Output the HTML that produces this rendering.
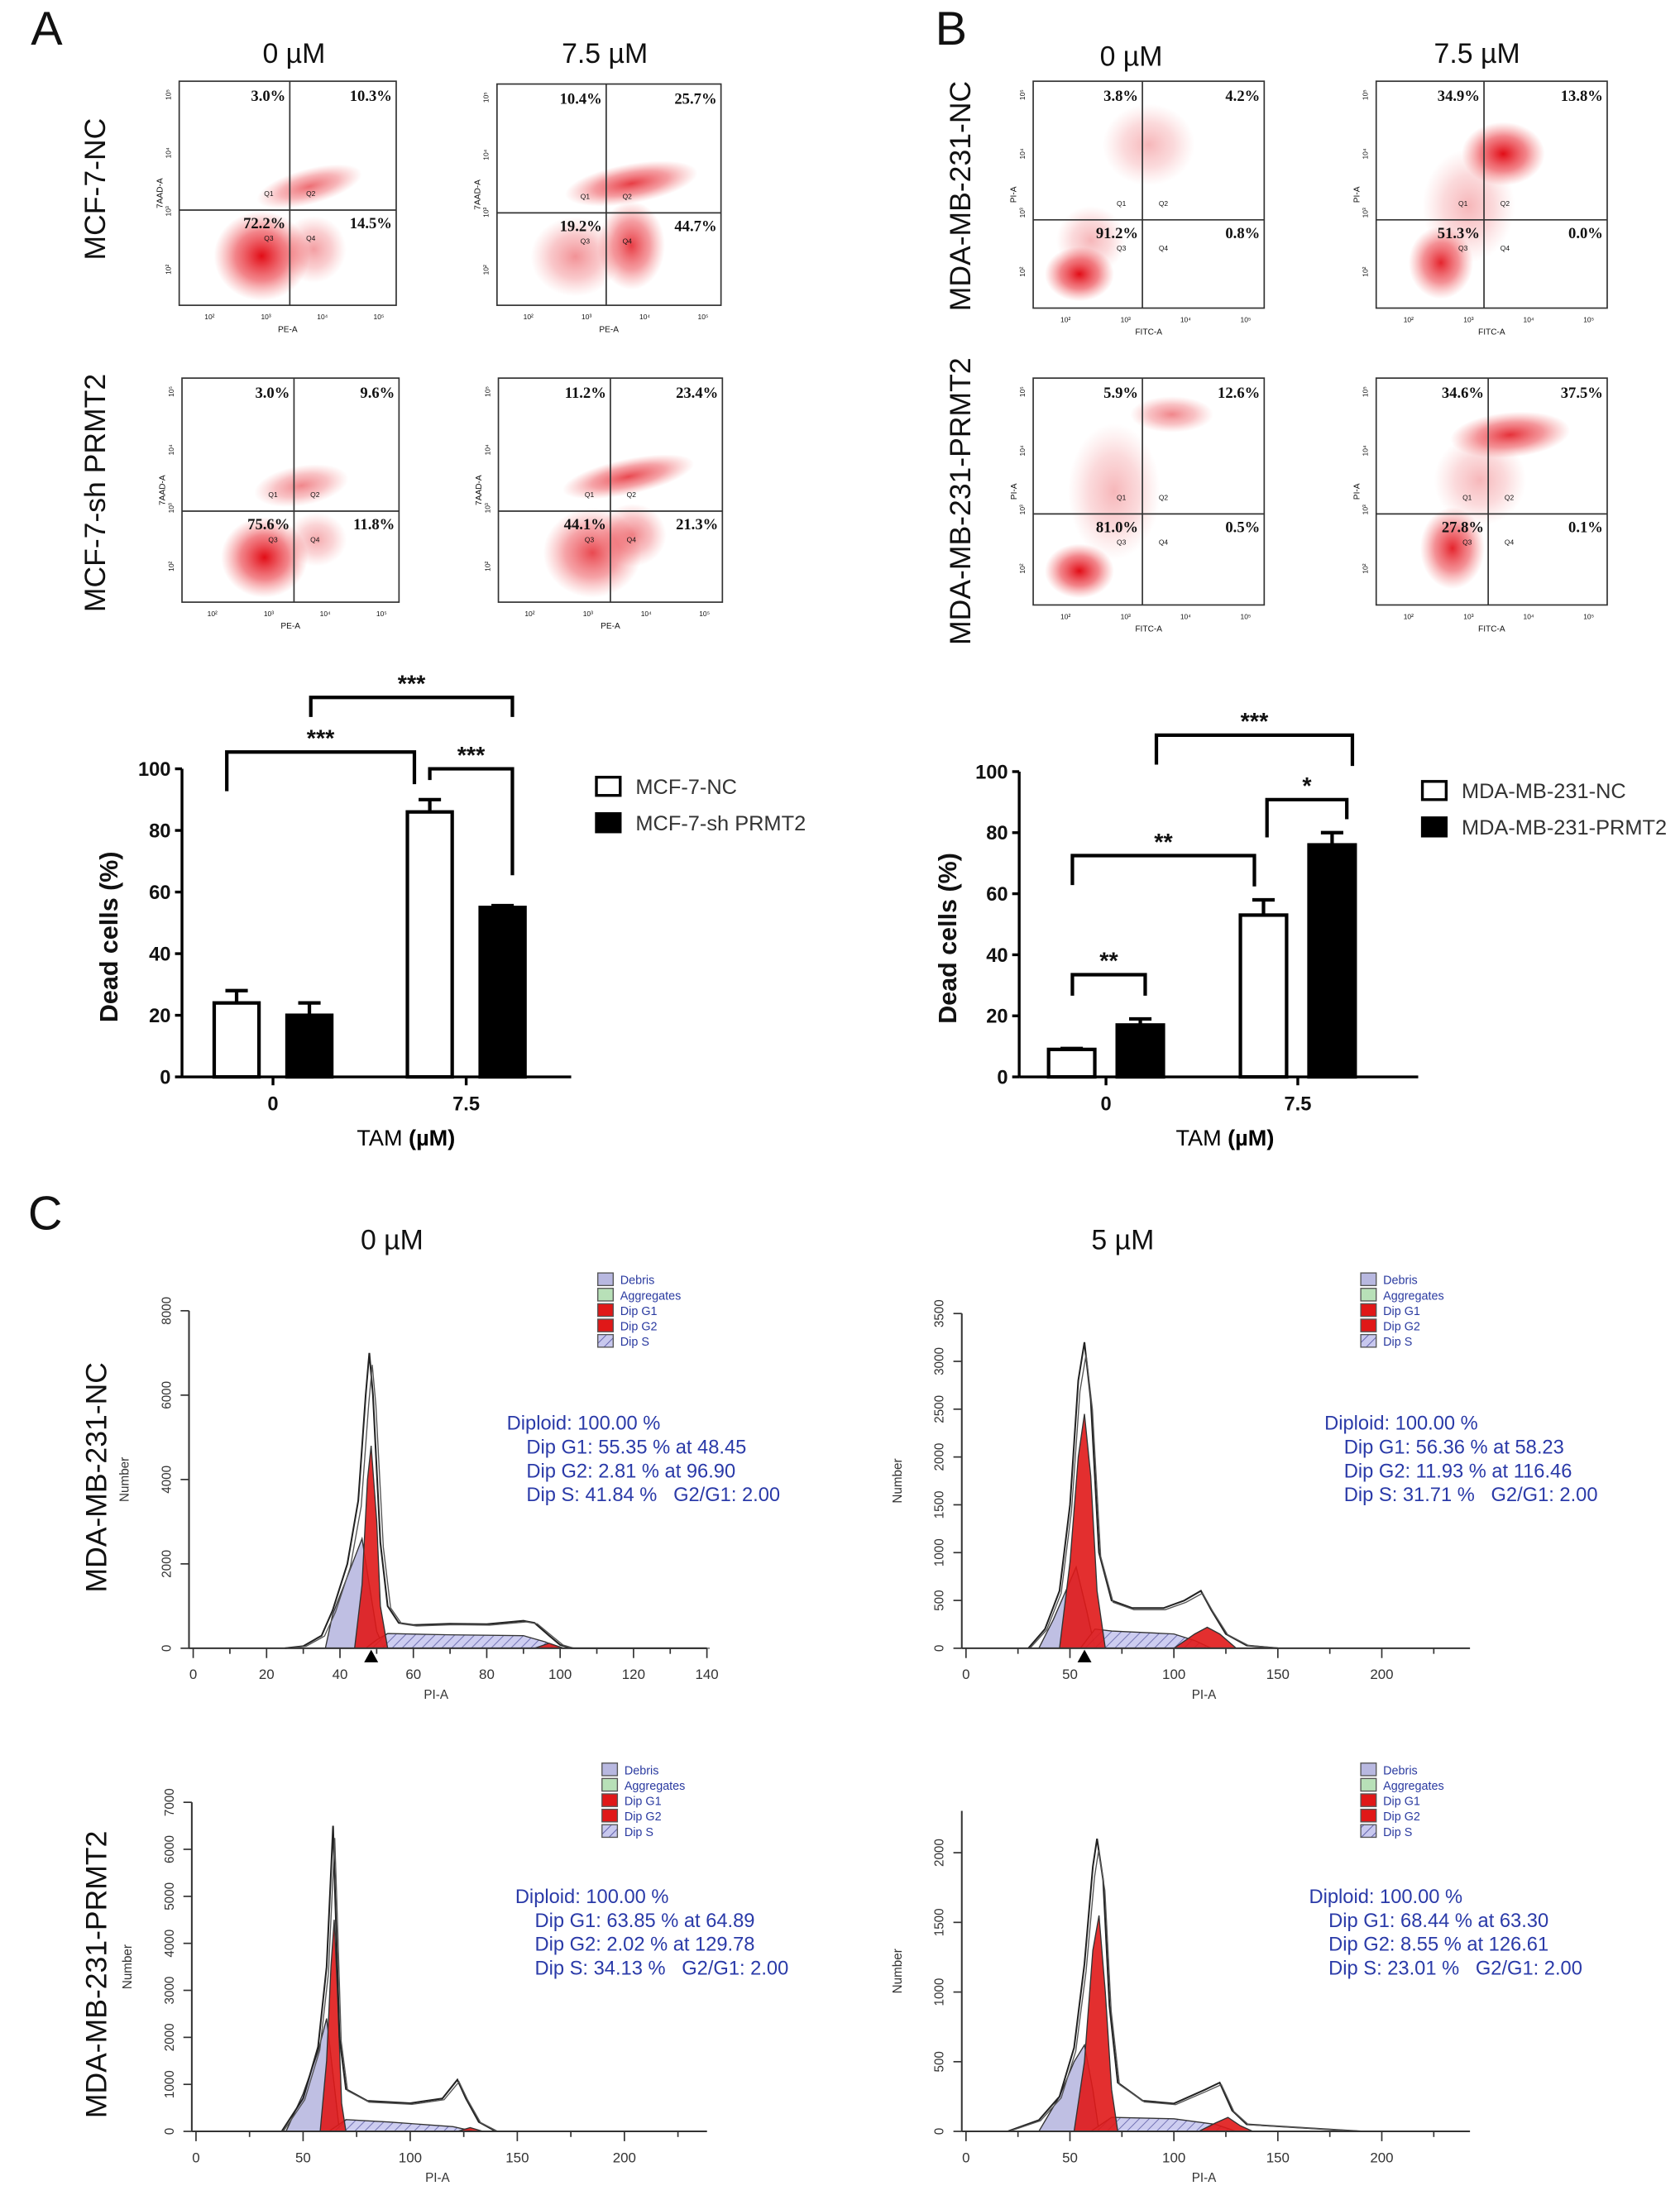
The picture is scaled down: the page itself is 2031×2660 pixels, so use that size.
<!DOCTYPE html>
<html><head><meta charset="utf-8"><style>
html,body{margin:0;padding:0;background:#fff;}
svg{display:block;font-family:"Liberation Sans",sans-serif;}
</style></head><body>
<svg id="fig" width="2031" height="2660" viewBox="0 0 1200 1571" preserveAspectRatio="none" xmlns="http://www.w3.org/2000/svg">
<defs>
<radialGradient id="rg"><stop offset="0" stop-color="#e0000a" stop-opacity="0.95"/><stop offset="0.55" stop-color="#e8202a" stop-opacity="0.55"/><stop offset="1" stop-color="#f05050" stop-opacity="0"/></radialGradient>
<pattern id="hatch" width="5" height="5" patternUnits="userSpaceOnUse" patternTransform="rotate(45)"><rect width="5" height="5" fill="#c8c8ee"/><line x1="0" y1="0" x2="0" y2="5" stroke="#5050a0" stroke-width="1"/></pattern>
</defs>
<g id="root"></g>
</svg>
<script>
// ---------- Bar chart data ----------
const barCategories = ["0", "7.5"];
const barA_NC = [24, 86];
const barA_NC_err = [4, 4];
const barA_sh = [20, 55];
const barA_sh_err = [4, 0.6];
const barB_NC = [9, 53];
const barB_NC_err = [0.3, 5];
const barB_PR = [17, 76];
const barB_PR_err = [2, 4];
const barTicks = [0, 20, 40, 60, 80, 100];

// ---------- Histogram data ([PI, count]) ----------
const hTL_env = [[25,0],[30,50],[35,300],[38,900],[42,2000],[45,3500],[47,6000],[48,7000],[49,6000],[51,2500],[53,1000],[56,600],[60,550],[70,580],[80,570],[90,650],[93,600],[97,300],[100,80],[103,0],[140,0]];
const hTL_deb = [[36,0],[38,800],[42,1700],[46,2600],[48,1500],[50,400],[52,0]];
const hTL_g1 = [[44,0],[46,1500],[47.5,4000],[48.5,4800],[50,3000],[51,1000],[53,0]];
const hTL_s = [[47,0],[50,200],[53,350],[70,320],[90,300],[96,150],[100,0]];
const hTL_g2 = [[93,0],[97,120],[101,0]];
const hTR_env = [[30,0],[38,200],[45,600],[50,1500],[54,2800],[57,3200],[60,2600],[64,1000],[70,500],[80,420],[95,420],[105,500],[113,600],[118,400],[125,150],[135,30],[150,0]];
const hTR_deb = [[35,0],[42,300],[48,600],[53,850],[58,400],[62,0]];
const hTR_g1 = [[45,0],[50,900],[54,2000],[57,2450],[60,1800],[63,600],[67,0]];
const hTR_s = [[55,0],[62,200],[70,180],[100,150],[110,80],[118,0]];
const hTR_g2 = [[100,0],[110,150],[116,220],[122,150],[130,0]];
const hBL_env = [[40,0],[50,700],[57,1800],[61,3500],[63,5500],[64,6500],[65,5000],[67,2000],[70,900],[80,650],[100,600],[115,700],[122,1100],[126,700],[132,200],[140,0]];
const hBL_deb = [[42,0],[50,800],[57,1700],[61,2400],[64,1200],[67,0]];
const hBL_g1 = [[58,0],[61,1500],[63,3500],[64.5,4500],[66,3000],[68,600],[70,0]];
const hBL_s = [[62,0],[70,250],[90,200],[120,100],[130,0]];
const hBL_g2 = [[122,0],[128,80],[134,0]];
const hBR_env = [[20,0],[35,80],[45,250],[52,600],[57,1200],[61,1900],[63,2100],[66,1800],[69,900],[73,350],[85,220],[100,200],[115,300],[122,350],[128,150],[135,50],[190,0]];
const hBR_deb = [[35,0],[45,250],[52,500],[57,620],[61,300],[64,0]];
const hBR_g1 = [[52,0],[57,500],[61,1300],[64,1550],[67,1000],[70,300],[73,0]];
const hBR_s = [[60,0],[70,100],[100,90],[120,50],[130,0]];
const hBR_g2 = [[112,0],[120,60],[126,100],[132,40],[138,0]];

// ---------- Flow plot quadrant percentages [Q1,Q2,Q3,Q4] ----------
const fA_NC0 = ["3.0%","10.3%","72.2%","14.5%"];
const fA_NC7 = ["10.4%","25.7%","19.2%","44.7%"];
const fA_sh0 = ["3.0%","9.6%","75.6%","11.8%"];
const fA_sh7 = ["11.2%","23.4%","44.1%","21.3%"];
const fB_NC0 = ["3.8%","4.2%","91.2%","0.8%"];
const fB_NC7 = ["34.9%","13.8%","51.3%","0.0%"];
const fB_PR0 = ["5.9%","12.6%","81.0%","0.5%"];
const fB_PR7 = ["34.6%","37.5%","27.8%","0.1%"];

const NS = "http://www.w3.org/2000/svg";
const root = document.getElementById("root");
function el(tag, attrs, parent, txt){
  const e = document.createElementNS(NS, tag);
  for (const k in attrs) e.setAttribute(k, attrs[k]);
  if (txt !== undefined) e.textContent = txt;
  (parent || root).appendChild(e);
  return e;
}
function txt(x,y,s,size,opts,parent){
  opts = opts||{};
  const t = el("text",{x:x,y:y,"font-size":size,"text-anchor":opts.anchor||"middle",fill:opts.fill||"#111","font-weight":opts.weight||"normal","font-family":opts.family||'"Liberation Sans",sans-serif'},parent,s);
  if (opts.rot) t.setAttribute("transform","rotate("+opts.rot+" "+x+" "+y+")");
  return t;
}

// ---------- Panel labels / headers ----------
let t;
t = txt(22,32,"A",34,{anchor:"start"});


t = txt(668,32,"B",34,{anchor:"start"});


t = txt(20,878,"C",34,{anchor:"start"});


[[210,45,"0 µM"],[432,45,"7.5 µM"],[808,47,"0 µM"],[1055,45,"7.5 µM"],[280,892,"0 µM"],[802,892,"5 µM"]].forEach(h=>{
  const e = txt(h[0],h[1],h[2],20);
  
  
});
[[75,135,"MCF-7-NC"],[75,352,"MCF-7-sh PRMT2"],[693,140,"MDA-MB-231-NC"],[693,358,"MDA-MB-231-PRMT2"],[76,1055,"MDA-MB-231-NC"],[76,1410,"MDA-MB-231-PRMT2"]].forEach(h=>{
  const e = txt(h[0],h[1],h[2],21,{rot:-90});
  
  
});

// ---------- Flow cytometry plots ----------
function flow(x0,y0,x1,y1,vx,hy,pcts,clusters,xl,yl){
  const g = el("g",{});
  
  
  clusters.forEach(c=>{
    const e = el("ellipse",{cx:x0+(x1-x0)*c[0],cy:y0+(y1-y0)*c[1],rx:(x1-x0)*c[2],ry:(y1-y0)*c[3],fill:"url(#rg)",opacity:c[4],transform:"rotate("+(c[5]||0)+" "+(x0+(x1-x0)*c[0])+" "+(y0+(y1-y0)*c[1])+")"},g);
    
    
  });
  el("rect",{x:x0,y:y0,width:x1-x0,height:y1-y0,fill:"none",stroke:"#333","stroke-width":1},g);
  el("line",{x1:vx,y1:y0,x2:vx,y2:y1,stroke:"#333","stroke-width":1},g);
  el("line",{x1:x0,y1:hy,x2:x1,y2:hy,stroke:"#333","stroke-width":1},g);
  const f = {weight:"bold",family:'"Liberation Serif",serif'};
  txt(vx-3,y0+14,pcts[0],11,Object.assign({anchor:"end"},f),g);
  txt(x1-3,y0+14,pcts[1],11,Object.assign({anchor:"end"},f),g);
  txt(vx-3,hy+13,pcts[2],11,Object.assign({anchor:"end"},f),g);
  txt(x1-3,hy+13,pcts[3],11,Object.assign({anchor:"end"},f),g);
  txt(vx-15,hy-10,"Q1",5,{},g); txt(vx+15,hy-10,"Q2",5,{},g);
  txt(vx-15,hy+22,"Q3",5,{},g); txt(vx+15,hy+22,"Q4",5,{},g);
  const w = x1-x0;
  ["10²","10³","10⁴","10⁵"].forEach((s,i)=>{ txt(x0+w*(0.14+0.26*i),y1+10,s,5,{},g); });
  ["10²","10³","10⁴","10⁵"].forEach((s,i)=>{ txt(x0-6,y1-(y1-y0)*(0.16+0.26*i),s,5,{rot:-90},g); });
  txt((x0+x1)/2,y1+19,xl,6,{},g);
  txt(x0-12,(y0+y1)/2,yl,6,{rot:-90},g);
}
flow(128,58,283,218,207,150,fA_NC0,[[0.38,0.78,0.22,0.2,1],[0.6,0.47,0.25,0.08,0.6,-15],[0.62,0.75,0.15,0.15,0.4]],"PE-A","7AAD-A");
flow(355,60,515,218,433,152,fA_NC7,[[0.6,0.45,0.3,0.09,0.8,-10],[0.6,0.73,0.15,0.2,0.8],[0.35,0.78,0.2,0.18,0.45]],"PE-A","7AAD-A");
flow(130,270,285,430,210,365,fA_sh0,[[0.38,0.8,0.2,0.18,1],[0.55,0.48,0.22,0.09,0.5,-10],[0.62,0.72,0.14,0.12,0.35]],"PE-A","7AAD-A");
flow(356,270,516,430,436,365,fA_sh7,[[0.58,0.44,0.3,0.08,0.75,-12],[0.42,0.78,0.22,0.2,0.75],[0.6,0.7,0.15,0.14,0.5]],"PE-A","7AAD-A");
flow(738,58,903,220,816,157,fB_NC0,[[0.2,0.85,0.15,0.12,1],[0.5,0.28,0.2,0.18,0.3],[0.25,0.7,0.15,0.15,0.3]],"FITC-A","PI-A");
flow(983,58,1148,220,1060,157,fB_NC7,[[0.55,0.32,0.18,0.14,1],[0.28,0.8,0.14,0.16,0.9],[0.4,0.55,0.2,0.25,0.3]],"FITC-A","PI-A");
flow(738,270,903,432,816,367,fB_PR0,[[0.2,0.85,0.15,0.12,1],[0.6,0.16,0.18,0.08,0.5],[0.35,0.5,0.2,0.3,0.3]],"FITC-A","PI-A");
flow(983,270,1148,432,1063,367,fB_PR7,[[0.58,0.25,0.26,0.1,0.85,-5],[0.33,0.75,0.14,0.18,0.9],[0.45,0.45,0.2,0.2,0.3]],"FITC-A","PI-A");

// ---------- Bar charts ----------
function barChart(cfg){
  const g = el("g",{});
  
  
  const y = v => cfg.y0 - (cfg.y0-cfg.y100)*v/100;
  el("line",{x1:cfg.ax,y1:cfg.y0,x2:cfg.ax,y2:cfg.y100,stroke:"#000","stroke-width":2},g);
  el("line",{x1:cfg.ax,y1:cfg.y0,x2:cfg.axEnd,y2:cfg.y0,stroke:"#000","stroke-width":2},g);
  barTicks.forEach(v=>{
    el("line",{x1:cfg.ax-5,y1:y(v),x2:cfg.ax,y2:y(v),stroke:"#000","stroke-width":2},g);
    const e = txt(cfg.ax-8,y(v)+5,String(v),14,{anchor:"end",weight:"bold"},g);
    
    
  });
  barCategories.forEach((c,i)=>{
    const cx = cfg.centers[i];
    el("line",{x1:cx,y1:cfg.y0,x2:cx,y2:cfg.y0+6,stroke:"#000","stroke-width":2},g);
    const e = txt(cx,cfg.y0+24,c,14,{weight:"bold"},g);
    
    
    [[cfg.s1,cfg.e1,"#fff",-1],[cfg.s2,cfg.e2,"#000",1]].forEach(s=>{
      const bx = cx + s[3]*(cfg.gap) - (s[3]<0?cfg.bw:0);
      const v = s[0][i], er = s[1][i];
      el("line",{x1:bx+cfg.bw/2,y1:y(v),x2:bx+cfg.bw/2,y2:y(v+er),stroke:"#000","stroke-width":2.5},g);
      el("line",{x1:bx+cfg.bw/2-8,y1:y(v+er),x2:bx+cfg.bw/2+8,y2:y(v+er),stroke:"#000","stroke-width":2.5},g);
      const r = el("rect",{x:bx,y:y(v),width:cfg.bw,height:cfg.y0-y(v),fill:s[2],stroke:"#000","stroke-width":2.5},g);
      
      
    });
  });
  const yl = txt(cfg.ylx,(cfg.y0+cfg.y100)/2+10,"Dead cells (%)",18,{rot:-90,weight:"bold"},g);
  
  
  const xl = el("text",{x:cfg.xlx,y:cfg.y0+49,"font-size":16,"text-anchor":"middle"},g);
  
  
  el("tspan",{},xl,"TAM ");
  el("tspan",{"font-weight":"bold"},xl,"(µM)");
  cfg.brackets.forEach(b=>{
    el("path",{d:"M"+b[0]+" "+b[3]+" V"+b[2]+" H"+b[1]+" V"+b[4],fill:"none",stroke:"#000","stroke-width":2.5},g);
    const e = txt((b[0]+b[1])/2,b[2]-4,b[5],17,{weight:"bold"},g);
    
    
  });
  cfg.legend.forEach((l,i)=>{
    const ly = cfg.legY + i*26;
    el("rect",{x:cfg.legX,y:ly,width:17,height:13,fill:i?"#000":"#fff",stroke:"#000","stroke-width":2},g);
    const e = txt(cfg.legX+28,ly+12,l,15,{anchor:"start",fill:"#333"},g);
    
    
  });
}
barChart({name:"bar-chart-a",ax:130,axEnd:408,y0:769,y100:549,centers:[195,333],bw:32,gap:10,
  s1:barA_NC,e1:barA_NC_err,s2:barA_sh,e2:barA_sh_err,ylx:84,xlx:290,
  brackets:[[162,296,537,565,560,"***"],[222,366,498,512,512,"***"],[307,366,549,557,625,"***"]],
  legend:["MCF-7-NC","MCF-7-sh PRMT2"],legX:426,legY:555});
barChart({name:"bar-chart-b",ax:728,axEnd:1013,y0:769,y100:551,centers:[790,927],bw:33,gap:8,
  s1:barB_NC,e1:barB_NC_err,s2:barB_PR,e2:barB_PR_err,ylx:683,xlx:875,
  brackets:[[826,966,525,546,547,"***"],[905,962,571,598,585,"*"],[766,896,611,632,633,"**"],[766,818,696,711,711,"**"]],
  legend:["MDA-MB-231-NC","MDA-MB-231-PRMT2"],legX:1016,legY:558});

// ---------- Cell-cycle histograms ----------
function hist(cfg){
  const g = el("g",{});
  
  
  const X = v => cfg.ox + v*cfg.sx, Y = v => cfg.oy - v*cfg.sy;
  const path = (pts,close) => pts.map((p,i)=>(i?"L":"M")+X(p[0]).toFixed(1)+" "+Y(p[1]).toFixed(1)).join(" ")+(close?" Z":"");
  [[cfg.deb,"#b8b8e0"],[cfg.s,"url(#hatch)"],[cfg.g1,"#e01818"],[cfg.g2,"#e01818"]].forEach(c=>{
    const p = el("path",{d:path(c[0],true),fill:c[1],stroke:"#333","stroke-width":0.8,"fill-opacity":0.9},g);
    
    
  });
  const env = el("path",{d:path(cfg.env,false),fill:"none",stroke:"#222","stroke-width":1.2},g);
  
  
  el("path",{d:path(cfg.env.map(p=>[p[0]+0.8,p[1]*0.96]),false),fill:"none",stroke:"#555","stroke-width":0.8},g);
  el("line",{x1:cfg.ox-3,y1:cfg.oy,x2:cfg.axEnd,y2:cfg.oy,stroke:"#333","stroke-width":1.2},g);
  el("line",{x1:cfg.ox-3,y1:cfg.oy,x2:cfg.ox-3,y2:Y(cfg.yMax),stroke:"#333","stroke-width":1.2},g);
  cfg.xt.forEach(v=>{
    el("line",{x1:X(v),y1:cfg.oy,x2:X(v),y2:cfg.oy+7,stroke:"#333","stroke-width":1},g);
    txt(X(v),cfg.oy+22,String(v),10,{fill:"#333"},g);
    const m = v + (cfg.xt[1]-cfg.xt[0])/2;
    if (X(m) < cfg.axEnd) el("line",{x1:X(m),y1:cfg.oy,x2:X(m),y2:cfg.oy+4,stroke:"#333","stroke-width":1},g);
  });
  cfg.yt.forEach(v=>{
    el("line",{x1:cfg.ox-9,y1:Y(v),x2:cfg.ox-3,y2:Y(v),stroke:"#333","stroke-width":1},g);
    txt(cfg.ox-16,Y(v),String(v),9,{rot:-90,fill:"#333"},g);
  });
  txt((cfg.ox+cfg.axEnd)/2-10,cfg.oy+36,"PI-A",9,{fill:"#333"},g);
  txt(cfg.ox-46,(cfg.oy+Y(cfg.yMax))/2,"Number",9,{rot:-90,fill:"#333"},g);
  if (cfg.peak !== null) el("path",{d:"M"+X(cfg.peak)+" "+(cfg.oy+1)+" l-5 9 h10 Z",fill:"#000"},g);
  const lg = [["Debris","#b8b8e0"],["Aggregates","#b8e0b8"],["Dip G1","#e01818"],["Dip G2","#e01818"],["Dip S","url(#hatch)"]];
  lg.forEach((l,i)=>{
    el("rect",{x:cfg.lx,y:cfg.ly+i*11,width:11,height:9,fill:l[1],stroke:"#555","stroke-width":0.8},g);
    const e = txt(cfg.lx+16,cfg.ly+i*11+8,l[0],8.5,{anchor:"start",fill:"#2a3aa0"},g);
    
    
  });
  cfg.text.forEach((s,i)=>{
    const e = txt(cfg.tx+(i?14:0),cfg.ty+i*17,s,14,{anchor:"start",fill:"#2a3aa8"},g);
    e.setAttribute("style","white-space:pre");
    
    
  });
}
hist({ox:138,oy:1177,sx:2.621,sy:0.030125,axEnd:505,yMax:8000,xt:[0,20,40,60,80,100,120,140],yt:[0,2000,4000,6000,8000],peak:48.5,
  env:hTL_env,deb:hTL_deb,g1:hTL_g1,s:hTL_s,g2:hTL_g2,lx:427,ly:909,tx:362,ty:1021,
  text:["Diploid: 100.00 %","Dip G1: 55.35 % at 48.45","Dip G2: 2.81 % at 96.90","Dip S: 41.84 %   G2/G1: 2.00"]});
hist({ox:690,oy:1177,sx:1.485,sy:0.06829,axEnd:1050,yMax:3500,xt:[0,50,100,150,200],yt:[0,500,1000,1500,2000,2500,3000,3500],peak:57,
  env:hTR_env,deb:hTR_deb,g1:hTR_g1,s:hTR_s,g2:hTR_g2,lx:972,ly:909,tx:946,ty:1021,
  text:["Diploid: 100.00 %","Dip G1: 56.36 % at 58.23","Dip G2: 11.93 % at 116.46","Dip S: 31.71 %   G2/G1: 2.00"]});
hist({ox:140,oy:1522,sx:1.53,sy:0.03357,axEnd:505,yMax:7000,xt:[0,50,100,150,200],yt:[0,1000,2000,3000,4000,5000,6000,7000],peak:null,
  env:hBL_env,deb:hBL_deb,g1:hBL_g1,s:hBL_s,g2:hBL_g2,lx:430,ly:1259,tx:368,ty:1359,
  text:["Diploid: 100.00 %","Dip G1: 63.85 % at 64.89","Dip G2: 2.02 % at 129.78","Dip S: 34.13 %   G2/G1: 2.00"]});
hist({ox:690,oy:1522,sx:1.485,sy:0.0995,axEnd:1050,yMax:2300,xt:[0,50,100,150,200],yt:[0,500,1000,1500,2000],peak:null,
  env:hBR_env,deb:hBR_deb,g1:hBR_g1,s:hBR_s,g2:hBR_g2,lx:972,ly:1259,tx:935,ty:1359,
  text:["Diploid: 100.00 %","Dip G1: 68.44 % at 63.30","Dip G2: 8.55 % at 126.61","Dip S: 23.01 %   G2/G1: 2.00"]});
</script>
</body></html>
